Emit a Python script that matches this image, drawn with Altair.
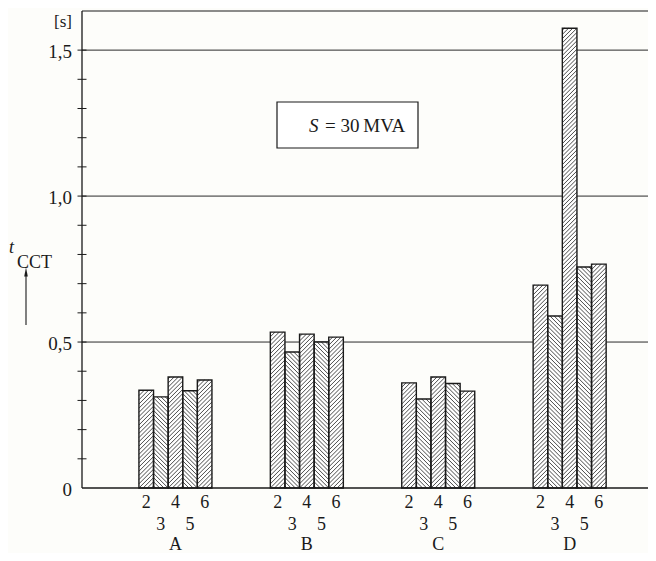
import altair as alt
import numpy as np
import pandas as pd

# ---------------- data ----------------
groups = ["A", "B", "C", "D"]
bar_labels = [2, 3, 4, 5, 6]
values_A = [0.335, 0.312, 0.380, 0.333, 0.370]
values_B = [0.534, 0.466, 0.527, 0.500, 0.517]
values_C = [0.360, 0.305, 0.380, 0.358, 0.332]
values_D = [0.695, 0.589, 1.575, 0.757, 0.767]
y_label_values = [0, 0.5, 1.0, 1.5]
y_tick_labels = ["0", "0,5", "1,0", "1,5"]
grid_values = [0.5, 1.0, 1.5]
minor_ticks = [0.1, 0.2, 0.3, 0.4, 0.5, 0.6, 0.7, 0.8, 0.9, 1.0,
               1.1, 1.2, 1.3, 1.4, 1.5]
unit_label = "[s]"
box_label_var = "S"
box_label_rest = "= 30\u2009MVA"
ytitle_main = "t"
ytitle_sub = "CCT"

# ---------------- layout / style constants ----------------
W, H = 566, 477
YMAX = 1.634
BAR_PX = 14.6
XMAX = W / BAR_PX
GROUP_STEP = 9.0      # distance between groups, in bar widths
FIRST = 3.9           # gap from axis to first bar, in bar widths
SERIF = "Liberation Serif"
INK = "#1a1a1a"
FS = 18

rows = []
for gi, (g, vals) in enumerate(zip(groups, [values_A, values_B, values_C, values_D])):
    for bi, (n, v) in enumerate(zip(bar_labels, vals)):
        x0 = FIRST + gi * GROUP_STEP + bi
        rows.append(dict(group=g, num=str(n), value=v, x0=x0, x1=x0 + 1,
                         xc=x0 + 0.5, zero=0.0, even=(n % 2 == 0), mid=(bi == 2)))
bars = pd.DataFrame(rows)

# hatch segments (herringbone: "/" for even bars, "\" for odd bars)
px_per_y = H / YMAX
d = BAR_PX / px_per_y
s = 4.2 / px_per_y
hatch = []
for r in rows:
    v, x0 = r["value"], r["x0"]
    ks = np.arange(-int(d / s) - 2, int(v / s) + 3)
    for y in ks * s:
        if r["even"]:
            t_lo = max(0.0, -y / d)
            t_hi = min(1.0, (v - y) / d)
            if t_hi - t_lo > 1e-6:
                hatch.append(dict(hx=x0 + t_lo, hx2=x0 + t_hi,
                                  hy=y + d * t_lo, hy2=y + d * t_hi))
        else:
            t_lo = max(0.0, 1 - (v - y) / d)
            t_hi = min(1.0, 1 + y / d)
            if t_hi - t_lo > 1e-6:
                hatch.append(dict(hx=x0 + t_lo, hx2=x0 + t_hi,
                                  hy=y + d * (1 - t_lo), hy2=y + d * (1 - t_hi)))
hatch = pd.DataFrame(hatch)
ticks_df = pd.DataFrame({"t": minor_ticks})
grid_df = pd.DataFrame({"g": grid_values})
ylab_df = pd.DataFrame({"v": y_label_values, "lab": y_tick_labels})
one = pd.DataFrame({"zero": [0.0], "top": [YMAX], "xl": [0.0]})

xs = alt.Scale(domain=[0, XMAX], nice=False, zero=False)
ys = alt.Scale(domain=[0, YMAX], nice=False, zero=False)

base_bars = alt.Chart(bars).mark_rect(fill="white", strokeWidth=0).encode(
    x=alt.X("x0:Q", scale=xs, axis=None),
    x2="x1:Q",
    y=alt.Y("value:Q", scale=ys, axis=None),
    y2="zero:Q",
)

grid_layer = alt.Chart(grid_df).mark_rule(color="#2a2a2a", strokeWidth=1).encode(
    y=alt.Y("g:Q", scale=ys, axis=None)
)

hatch_layer = alt.Chart(hatch).mark_rule(color="#2a2a2a", strokeWidth=0.85).encode(
    x=alt.X("hx:Q", scale=xs, axis=None), x2="hx2:Q",
    y=alt.Y("hy:Q", scale=ys, axis=None), y2="hy2:Q",
)

outline = alt.Chart(bars).mark_rect(fillOpacity=0, stroke=INK, strokeWidth=1.4).encode(
    x=alt.X("x0:Q", scale=xs, axis=None), x2="x1:Q",
    y=alt.Y("value:Q", scale=ys, axis=None), y2="zero:Q",
)

top_rule = alt.Chart(one).mark_rule(color=INK, strokeWidth=1.2).encode(
    y=alt.Y("top:Q", scale=ys, axis=None)
)
base_rule = alt.Chart(one).mark_rule(color=INK, strokeWidth=1.3).encode(
    y=alt.Y("zero:Q", scale=ys, axis=None)
)
y_domain = alt.Chart(one).mark_rule(color=INK, strokeWidth=1.3).encode(
    x=alt.X("xl:Q", scale=xs, axis=None),
    y=alt.Y("zero:Q", scale=ys, axis=None), y2="top:Q"
)

tick_layer = alt.Chart(ticks_df).mark_rule(color=INK, strokeWidth=1).encode(
    y=alt.Y("t:Q", scale=ys, axis=None),
    x=alt.value(-4.5), x2=alt.value(4.5),
)

ylab_layer = alt.Chart(ylab_df).mark_text(
    font=SERIF, fontSize=FS + 1, color=INK, align="right", baseline="middle", dy=2
).encode(y=alt.Y("v:Q", scale=ys, axis=None), x=alt.value(-10), text="lab:N")

even_lbl = alt.Chart(bars).transform_filter("datum.even").mark_text(
    font=SERIF, fontSize=FS, color=INK, baseline="alphabetic", dy=20
).encode(x=alt.X("xc:Q", scale=xs, axis=None),
         y=alt.Y("zero:Q", scale=ys, axis=None), text="num:N")

odd_lbl = alt.Chart(bars).transform_filter("!datum.even").mark_text(
    font=SERIF, fontSize=FS, color=INK, baseline="alphabetic", dy=42
).encode(x=alt.X("xc:Q", scale=xs, axis=None),
         y=alt.Y("zero:Q", scale=ys, axis=None), text="num:N")

grp_lbl = alt.Chart(bars).transform_filter("datum.mid").mark_text(
    font=SERIF, fontSize=FS, color=INK, baseline="alphabetic", dy=62
).encode(x=alt.X("xc:Q", scale=xs, axis=None),
         y=alt.Y("zero:Q", scale=ys, axis=None), text="group:N")

unit_txt = alt.Chart(one).mark_text(
    font=SERIF, fontSize=FS - 1, color=INK, align="right", baseline="middle",
    text=unit_label
).encode(x=alt.value(-10), y=alt.value(11))

box = alt.Chart(one).mark_rect(fill="white", stroke=INK, strokeWidth=1.2).encode(
    x=alt.value(195), x2=alt.value(336), y=alt.value(91), y2=alt.value(137)
)
box_s = alt.Chart(one).mark_text(
    font=SERIF, fontSize=FS + 1, fontStyle="italic", color=INK, align="left",
    baseline="alphabetic", text=box_label_var
).encode(x=alt.value(227), y=alt.value(121))
box_rest = alt.Chart(one).mark_text(
    font=SERIF, fontSize=FS + 1, color=INK, align="left",
    baseline="alphabetic", text=box_label_rest
).encode(x=alt.value(243), y=alt.value(121))

yt_main = alt.Chart(one).mark_text(
    font=SERIF, fontSize=18, fontStyle="italic", color=INK, align="left",
    baseline="alphabetic", text=ytitle_main
).encode(x=alt.value(-73), y=alt.value(242))
yt_sub = alt.Chart(one).mark_text(
    font=SERIF, fontSize=18, color=INK, align="left",
    baseline="alphabetic", text=ytitle_sub
).encode(x=alt.value(-65), y=alt.value(257))
arrow_line = alt.Chart(one).mark_rule(color=INK, strokeWidth=1.1).encode(
    x=alt.value(-56), y=alt.value(262), y2=alt.value(314)
)
arrow_head = alt.Chart(one).mark_point(
    shape="M-0.4,1L0,-1L0.4,1Z", filled=True, fill=INK, strokeWidth=0,
    size=81, opacity=1
).encode(x=alt.value(-56), y=alt.value(261))

chart = alt.layer(
    grid_layer, base_bars, hatch_layer, outline, top_rule, base_rule,
    y_domain, tick_layer, ylab_layer,
    even_lbl, odd_lbl, grp_lbl, unit_txt, box, box_s, box_rest,
    yt_main, yt_sub, arrow_line, arrow_head,
).properties(
    width=W, height=H,
    autosize=alt.AutoSizeParams(type="none"),
    padding={"left": 74, "top": 3, "right": 0, "bottom": 65},
    background="#fdfdfa",
).configure_view(stroke=None)

chart.save("out.html", embed_options={"renderer": "svg", "actions": False})
